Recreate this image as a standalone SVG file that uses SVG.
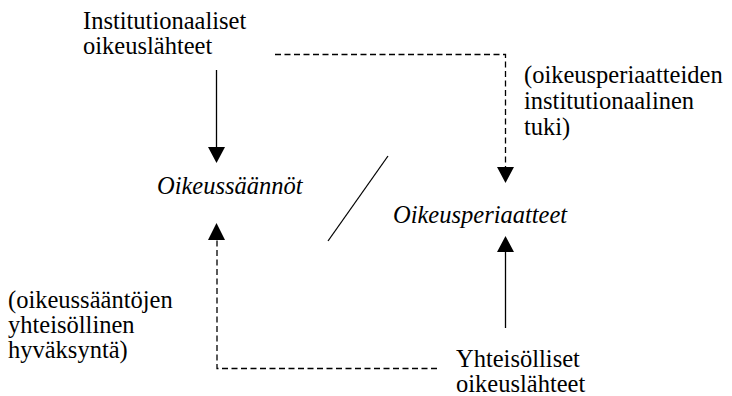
<svg xmlns="http://www.w3.org/2000/svg" width="732" height="396" viewBox="0 0 732 396">
<style>
.t{font-family:'Liberation Serif','Times New Roman',serif;font-size:24.5px;fill:#000}
.it{font-style:italic}
.ln{stroke:#000;stroke-width:1.3;fill:none}
.ds{stroke:#000;stroke-width:1.3;fill:none;stroke-dasharray:6 3.5}
.ah{fill:#000;stroke:none}
</style>
<rect width="732" height="396" fill="#fff"/>
<g id="connectors">
<line class="ln" x1="216.5" y1="70" x2="216.5" y2="148"/>
<polygon class="ah" points="208,147 225,147 216.5,163"/>
<polyline class="ds" points="275,54.5 505.5,54.5 505.5,168"/>
<polygon class="ah" points="497,167 514,167 505.5,183"/>
<line class="ln" x1="505.5" y1="328" x2="505.5" y2="251"/>
<polygon class="ah" points="497,252 514,252 505.5,236"/>
<polyline class="ds" points="437,368.5 217,368.5 217,239"/>
<polygon class="ah" points="208,240 225,240 216.5,223"/>
<line class="ln" x1="388" y1="156" x2="328" y2="241"/>
</g>
<g id="institutionaaliset" class="t">
<text x="83" y="29">Institutionaaliset</text>
<text x="83" y="54">oikeuslähteet</text>
</g>
<g id="oikeussaannot" class="t it">
<text x="157" y="194">Oikeussäännöt</text>
</g>
<g id="oikeusperiaatteet" class="t it">
<text x="393" y="223">Oikeusperiaatteet</text>
</g>
<g id="label-tuki" class="t">
<text x="524" y="83">(oikeusperiaatteiden</text>
<text x="524" y="109">institutionaalinen</text>
<text x="524" y="135">tuki)</text>
</g>
<g id="label-hyvaksynta" class="t">
<text x="8" y="308">(oikeussääntöjen</text>
<text x="8" y="333">yhteisöllinen</text>
<text x="8" y="358">hyväksyntä)</text>
</g>
<g id="yhteisolliset" class="t">
<text x="456" y="367">Yhteisölliset</text>
<text x="456" y="392">oikeuslähteet</text>
</g>
</svg>
